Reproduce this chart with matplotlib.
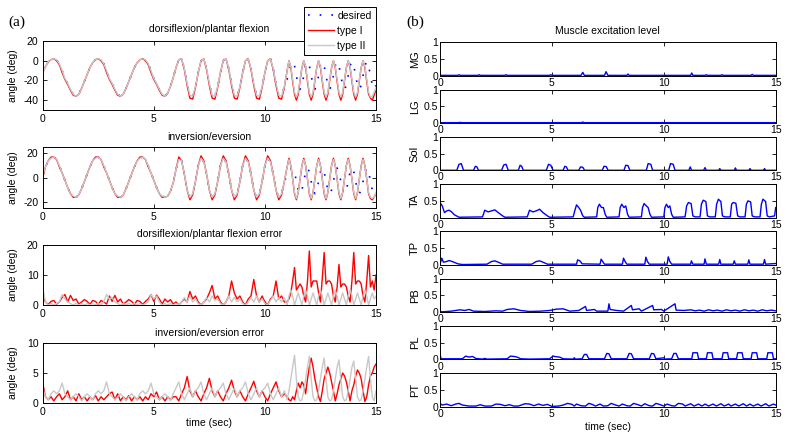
import numpy as np
import matplotlib
matplotlib.use("Agg")
import matplotlib.pyplot as plt
from matplotlib.lines import Line2D

plt.rcParams['font.family'] = ['Liberation Sans', 'DejaVu Sans']
plt.rcParams['axes.unicode_minus'] = False

# ---------------- data ----------------
# sample times: 0..11 s every 0.125 s, 11..15 s every 1/12 s
t_slow = np.arange(0, 11, 0.125)
t_fast = 11 + np.arange(48) / 12.0
t = np.concatenate([t_slow, t_fast, [15.0]])

dp_desired = [
    -13, -6, -1, 1, 2, 1, -3, -10, -18, -23, -29, -34, -36, -34, -28, -21,
    -14, -7, -2, 1, 2, 1, -3, -10, -18, -23, -29, -34, -36, -34, -28, -21,
    -14, -7, -2, 1, 2, 1, -3, -10, -18, -23, -29, -34, -36, -33, -26, -17,
    -7, 1, 2, -8, -23, -35, -36, -26,
    -12, 0, 2, -8, -23, -35, -36, -26,
    -12, 0, 2, -8, -23, -35, -36, -26,
    -12, 0, 2, -8, -23, -35, -36, -26,
    -12, 0, 2, -8, -23, -35, -36, -26,
    -19, -12, -5, -1, -5, -15, -25, -29,
    -25, -15, -5, -1, -5, -15, -25, -29,
    -25, -15, -5, -1, -5, -15, -25, -29,
    -25, -15, -5, -1, -5, -15, -25, -29,
    -25, -15, -5, -1, -5, -15, -25, -29,
    -25, -15, -5, -1, -5, -15, -25, -29,
    -25]
dp_type1 = [
    -12, -6, -1, 1, 2, 0, -4, -12, -19, -24, -30, -35, -36, -34, -28, -21,
    -14, -7, -2, 1, 2, 0, -4, -12, -19, -24, -30, -35, -36, -34, -28, -21,
    -14, -7, -2, 1, 2, 0, -4, -12, -19, -24, -30, -35, -36, -33, -26, -17,
    -7, 1, 2, -9, -25, -38, -39, -27,
    -12, 0, 2, -9, -25, -38, -39, -27,
    -12, 0, 2, -9, -25, -38, -39, -27,
    -12, 0, 2, -9, -25, -38, -39, -27,
    -12, 0, 2, -9, -25, -38, -39, -27,
    -10, 0, -7, -21, -34, -40, -34, -20,
    -7, 0, -7, -21, -34, -40, -34, -20,
    -7, 0, -7, -21, -34, -40, -34, -20,
    -7, 0, -7, -21, -34, -40, -34, -20,
    -7, 0, -7, -21, -34, -40, -34, -20,
    -7, 0, -7, -21, -34, -38, -40, -35,
    -30]
dp_type2 = [
    -13, -6, -1, 1, 2, 1, -3, -10, -18, -23, -29, -34, -36, -34, -28, -21,
    -14, -7, -2, 1, 2, 1, -3, -10, -18, -23, -29, -34, -36, -34, -28, -21,
    -14, -7, -2, 1, 2, 1, -3, -10, -18, -23, -29, -34, -36, -33, -26, -17,
    -7, 1, 2, -8, -23, -35, -36, -26,
    -12, 0, 2, -8, -23, -35, -36, -26,
    -12, 0, 2, -8, -23, -35, -36, -26,
    -12, 0, 2, -8, -23, -35, -36, -26,
    -12, 0, 2, -8, -23, -35, -36, -26,
    -10, 0, -6, -19, -32, -37, -32, -19,
    -7, 0, -6, -19, -32, -37, -32, -19,
    -7, 0, -6, -19, -32, -37, -32, -19,
    -7, 0, -6, -19, -32, -37, -32, -19,
    -7, 0, -6, -19, -32, -37, -32, -19,
    -7, 0, -6, -19, -32, -37, -36, -32,
    -27]

ie_desired = [
    2, 9, 14, 16, 17, 15, 10, 4, -2, -8, -13, -15, -16, -14, -9, -3,
    3, 9, 14, 16, 17, 15, 10, 4, -2, -8, -13, -15, -16, -14, -9, -3,
    3, 9, 14, 16, 17, 15, 10, 4, -2, -8, -13, -15, -16, -15, -11, -4,
    7, 15, 14, 3, -10, -16, -13, -3,
    10, 16, 13, 3, -10, -16, -13, -3,
    10, 16, 13, 3, -10, -16, -13, -3,
    10, 16, 13, 3, -10, -16, -13, -3,
    10, 16, 13, 3, -10, -16, -13, -3,
    2, 5, 7, 8, 5, -3, -10, -13,
    -10, -3, 5, 8, 5, -3, -10, -13,
    -10, -3, 5, 8, 5, -3, -10, -13,
    -10, -3, 5, 8, 5, -3, -10, -13,
    -10, -3, 5, 8, 5, -3, -10, -13,
    -10, -3, 5, 8, 5, -3, -10, -13,
    -10]
ie_type1 = [
    0, 9, 14, 17, 17, 15, 9, 4, -2, -8, -13, -16, -16, -14, -9, -3,
    3, 9, 14, 17, 17, 15, 9, 4, -2, -8, -13, -16, -16, -14, -9, -3,
    3, 9, 14, 17, 17, 15, 9, 4, -2, -8, -13, -16, -16, -15, -11, -4,
    7, 17, 14, 3, -10, -18, -14, -3,
    10, 18, 14, 3, -10, -18, -14, -3,
    10, 18, 14, 3, -10, -18, -14, -3,
    10, 18, 14, 3, -10, -18, -14, -3,
    10, 18, 14, 3, -10, -18, -14, -3,
    9, 16, 10, -1, -13, -18, -12, -1,
    10, 16, 10, -1, -13, -18, -12, -1,
    10, 16, 10, -1, -13, -18, -12, -1,
    10, 16, 10, -1, -13, -18, -12, -1,
    10, 16, 10, -1, -13, -18, -12, -1,
    10, 16, 10, -1, -13, -17, -18, -16,
    -13]
ie_type2 = [
    2, 9, 14, 16, 17, 15, 10, 4, -2, -8, -13, -15, -16, -14, -9, -3,
    3, 9, 14, 16, 17, 15, 10, 4, -2, -8, -13, -15, -16, -14, -9, -3,
    3, 9, 14, 16, 17, 15, 10, 4, -2, -8, -13, -15, -16, -15, -11, -4,
    7, 15, 14, 3, -10, -16, -13, -3,
    10, 16, 13, 3, -10, -16, -13, -3,
    10, 16, 13, 3, -10, -16, -13, -3,
    10, 16, 13, 3, -10, -16, -13, -3,
    10, 16, 13, 3, -10, -16, -13, -3,
    9, 15, 10, -1, -12, -17, -12, -1,
    10, 15, 10, -1, -12, -17, -12, -1,
    10, 15, 10, -1, -12, -17, -12, -1,
    10, 15, 10, -1, -12, -17, -12, -1,
    10, 15, 10, -1, -12, -17, -12, -1,
    10, 15, 10, -1, -12, -16, -17, -16,
    -12]

err_dp_type1 = [
    3, 1, 0.2, 1.2, 1.5, 0.3, 1, 2.5, 3.5, 1, 3.2, 1.5, 2, 0.3, 1, 1.8,
    1.2, 0.2, 1.5, 1.2, 0.2, 1.5, 1, 0.3, 3, 1.2, 3.2, 1, 2, 0.3, 1, 1.8,
    1.2, 0.2, 1.5, 1.2, 0.2, 1.2, 2, 3.5, 1.2, 3.3, 2, 0.3, 2, 1, 1.8, 0.3,
    1, 0, 1, 2, 1, 4.5, 2, 3,
    1, 0, 1, 2, 4, 6.5, 2, 3,
    1, 0, 1, 3, 8, 4, 2, 3,
    1, 0, 2, 3, 8.5, 3, 1, 3,
    1, 0, 2, 3, 8, 2, 3, 1,
    1, 2, 4, 8, 12.5, 5, 6, 7,
    6, 3, 1, 8, 18, 6, 8, 8,
    8, 4, 1, 9, 17.5, 7, 8, 8,
    7, 3, 1, 6, 13.5, 6, 7, 7,
    6, 3, 1, 8, 17.5, 7, 8, 8,
    7, 3, 1, 8, 16.5, 6, 8, 5,
    10]
err_dp_type2 = [
    6, 1, 0, 0.5, 0, 0.5, 1, 3.5, 2, 1, 0.5, 0, 0.5, 0, 0.5, 0,
    0.5, 0, 0.5, 0, 0.5, 0, 1, 3.5, 2, 2.5, 1, 0.5, 0, 0.5, 0, 0.5,
    0, 0.5, 0, 0.5, 0, 0.5, 1, 3.5, 2, 3, 1, 0, 0.5, 0, 0.5, 0,
    0.5, 0, 1, 2.5, 1, 3, 1, 2,
    0.5, 0, 1, 2.5, 1, 3, 1.5, 2,
    0.5, 0, 1, 3, 1, 2.5, 1, 2,
    0.5, 0, 1, 2.5, 1, 3, 1, 2,
    0.5, 0, 1.5, 3, 1, 2.5, 1, 2.5,
    0, 3, 5, 3, 0, 2, 4, 2,
    0, 3, 5, 3, 0, 2, 4, 2,
    0, 3, 5, 3, 0, 2, 4, 2,
    0, 3, 5, 3, 0, 2, 4, 2,
    0, 3, 5, 3, 0, 2, 4, 2,
    0, 3, 5, 3, 0, 2, 4, 2,
    3]

err_ie_type1 = [
    3.3, 1, 0.5, 1, 0.3, 1, 1.5, 0.5, 1, 2, 0.5, 1, 0.3, 1.5, 0.5, 1,
    0.3, 1, 0.5, 1.2, 0.3, 1, 0.5, 1, 1.5, 1.8, 0.5, 1.5, 0.3, 1, 0.5, 1.2,
    0.3, 1, 0.5, 1, 0.3, 1, 0.5, 1.5, 1, 1.8, 0.5, 1, 0.3, 1, 0.5, 1,
    1, 0.3, 1.5, 2.5, 4.4, 2, 1, 2,
    1, 0.3, 1.5, 2.5, 4.1, 2, 1, 2,
    1, 0.3, 1.5, 2.5, 3.8, 2, 1, 2,
    1, 0.3, 1.5, 2.5, 3.6, 2, 1, 2,
    1, 0.3, 1.5, 2.5, 3.5, 2, 1, 1.5,
    1, 0.5, 0.3, 1, 0.5, 2, 3.3, 2.5,
    3.5, 3, 1.5, 4, 6, 7.5, 6, 4,
    2.5, 1, 0.2, 2, 4, 5, 6, 5,
    3.5, 2, 0.3, 1.5, 3, 4, 5, 4.5,
    3.5, 2, 0.3, 2, 3, 4.5, 5.5, 5,
    4, 2, 0.2, 1, 3, 4.5, 5, 6,
    6.5]
err_ie_type2 = [
    2.5, 1, 0.5, 1.5, 2, 1.5, 2, 3.3, 1.5, 1, 0.5, 1, 1.5, 1, 0.3, 1,
    1.5, 1, 0.5, 1.5, 2, 1.5, 2, 3.5, 1.5, 1, 0.5, 1, 1.5, 1, 0.3, 1,
    1.5, 1, 0.5, 1.5, 2, 1.5, 2, 3.3, 1.5, 1, 0.5, 1, 1.5, 1, 0.3, 1.5,
    2.5, 3.5, 1.5, 0.5, 1.5, 2.5, 1, 2,
    2.5, 3.5, 1.5, 0.5, 1.5, 2.5, 1, 2,
    2.5, 3.3, 1.5, 0.5, 1.5, 2.5, 1, 2,
    2.5, 3.5, 1.5, 0.5, 1.5, 2.5, 1, 2,
    2.5, 3.3, 1.5, 0.5, 1.5, 2.5, 1, 2,
    0.5, 2, 4, 6, 8, 4, 1, 0.3,
    0.5, 2, 4, 6, 7.8, 4, 1, 0.3,
    0.5, 2, 4, 6, 7.5, 4, 1, 0.3,
    0.5, 2, 4, 6, 7.2, 4, 1, 0.3,
    0.5, 2, 4, 6, 7, 4, 1, 0.3,
    0.5, 2, 4, 6, 7.8, 4, 1, 0.3,
    2]

# muscle excitation levels: (time, level) points
MG = [(0, 0.01), (0.8, 0.01), (0.85, 0.03), (0.9, 0.01), (1.7, 0.01), (1.75, 0.03), (1.8, 0.01),
      (2.9, 0.01), (2.95, 0.03), (3.0, 0.01), (4.9, 0.01), (4.95, 0.03), (5.0, 0.01),
      (6.3, 0.01), (6.38, 0.10), (6.45, 0.01), (7.35, 0.01), (7.42, 0.12), (7.5, 0.01),
      (8.35, 0.01), (8.4, 0.05), (8.45, 0.01), (11.2, 0.01), (11.25, 0.08), (11.3, 0.01),
      (11.85, 0.01), (11.9, 0.03), (11.95, 0.01), (12.55, 0.01), (12.6, 0.03), (12.65, 0.01),
      (13.9, 0.01), (13.95, 0.04), (14.0, 0.01), (15, 0.01)]
LG = [(0, 0.01), (0.85, 0.01), (0.9, 0.02), (0.95, 0.01), (6.33, 0.01), (6.38, 0.03), (6.43, 0.01), (15, 0.01)]
Sol = [(0, 0), (0.75, 0), (0.85, 0.18), (0.95, 0.2), (1.05, 0), (1.5, 0), (1.58, 0.12), (1.65, 0.1), (1.72, 0),
       (2.75, 0), (2.85, 0.16), (2.95, 0.18), (3.05, 0), (3.5, 0), (3.58, 0.15), (3.65, 0.12), (3.72, 0),
       (4.75, 0), (4.85, 0.18), (4.95, 0.15), (5.05, 0), (5.5, 0), (5.58, 0.12), (5.65, 0.1), (5.72, 0),
       (6.2, 0), (6.28, 0.1), (6.38, 0.09), (6.46, 0), (7.25, 0), (7.33, 0.12), (7.43, 0.11), (7.51, 0),
       (8.22, 0), (8.3, 0.15), (8.4, 0.14), (8.48, 0), (9.22, 0), (9.3, 0.2), (9.42, 0.18), (9.5, 0),
       (10.22, 0), (10.3, 0.2), (10.42, 0.18), (10.5, 0), (11.12, 0), (11.18, 0.1), (11.24, 0),
       (11.78, 0), (11.84, 0.08), (11.9, 0), (12.45, 0), (12.5, 0.05), (12.55, 0), (13.15, 0), (13.2, 0.07),
       (13.25, 0), (13.8, 0), (13.85, 0.05), (13.9, 0), (14.45, 0), (14.5, 0.05), (14.55, 0), (15, 0)]
TA = [(0, 0.45), (0.1, 0.35), (0.2, 0.15), (0.3, 0.2), (0.4, 0.22), (0.5, 0.18), (0.65, 0.08), (0.85, 0.01),
      (1.9, 0.02), (2.0, 0.22), (2.15, 0.17), (2.3, 0.2), (2.45, 0.23), (2.6, 0.15), (2.8, 0.05), (2.9, 0.01),
      (3.9, 0.02), (4.0, 0.22), (4.15, 0.17), (4.3, 0.2), (4.45, 0.25), (4.6, 0.15), (4.8, 0.05), (4.9, 0.01),
      (5.95, 0.02), (6.02, 0.2), (6.1, 0.38), (6.2, 0.3), (6.28, 0.22), (6.38, 0.05), (6.45, 0.01),
      (7.0, 0.02), (7.05, 0.3), (7.12, 0.4), (7.22, 0.3), (7.3, 0.3), (7.38, 0.1), (7.45, 0.01),
      (8.0, 0.02), (8.05, 0.3), (8.12, 0.4), (8.22, 0.3), (8.3, 0.35), (8.38, 0.1), (8.45, 0.01),
      (9.0, 0.02), (9.05, 0.3), (9.12, 0.42), (9.22, 0.35), (9.3, 0.3), (9.38, 0.1), (9.45, 0.01),
      (10.0, 0.02), (10.05, 0.3), (10.12, 0.4), (10.2, 0.3), (10.27, 0.35), (10.35, 0.1), (10.42, 0.01),
      (10.95, 0.02), (11.02, 0.35), (11.1, 0.45), (11.22, 0.42), (11.3, 0.05), (11.4, 0.02),
      (11.62, 0.02), (11.68, 0.4), (11.76, 0.52), (11.88, 0.48), (11.95, 0.05), (12.05, 0.02),
      (12.3, 0.02), (12.36, 0.4), (12.44, 0.55), (12.55, 0.48), (12.62, 0.05), (12.72, 0.02),
      (12.97, 0.02), (13.03, 0.4), (13.1, 0.45), (13.22, 0.43), (13.3, 0.05), (13.4, 0.02),
      (13.63, 0.02), (13.69, 0.4), (13.76, 0.5), (13.88, 0.47), (13.95, 0.05), (14.05, 0.02),
      (14.3, 0.02), (14.36, 0.4), (14.43, 0.55), (14.55, 0.48), (14.62, 0.05), (14.72, 0.02),
      (14.95, 0.05), (15, 0.3)]
TP = [(0, 0.02), (0.08, 0.2), (0.15, 0.08), (0.3, 0.1), (0.4, 0.13), (0.55, 0.1), (0.8, 0.03), (1.0, 0.01),
      (2.1, 0.02), (2.3, 0.1), (2.45, 0.12), (2.6, 0.08), (2.8, 0.02), (4.1, 0.02), (4.3, 0.1), (4.45, 0.12),
      (4.6, 0.08), (4.8, 0.02), (6.1, 0.02), (6.15, 0.15), (6.25, 0.12), (6.35, 0.03),
      (7.15, 0.02), (7.2, 0.17), (7.27, 0.1), (7.35, 0.02), (8.15, 0.02), (8.2, 0.2), (8.27, 0.1), (8.35, 0.02),
      (9.15, 0.02), (9.2, 0.23), (9.27, 0.1), (9.35, 0.02), (10.15, 0.02), (10.2, 0.24), (10.27, 0.1),
      (10.35, 0.02), (11.2, 0.02), (11.23, 0.12), (11.3, 0.02), (11.8, 0.02), (11.84, 0.18), (11.9, 0.02),
      (12.45, 0.02), (12.5, 0.16), (12.55, 0.02), (13.1, 0.02), (13.15, 0.12), (13.2, 0.02),
      (13.75, 0.02), (13.8, 0.15), (13.85, 0.02), (14.45, 0.02), (14.5, 0.16), (14.55, 0.02), (15, 0.04)]
PB = [(0, 0.02), (0.1, 0.01), (0.5, 0.03), (0.9, 0.07), (1.1, 0.05), (1.3, 0.08), (1.5, 0.03), (2.0, 0.02),
      (2.5, 0.04), (2.8, 0.03), (3.0, 0.08), (3.3, 0.1), (3.6, 0.05), (4.0, 0.02), (4.5, 0.03), (4.9, 0.05),
      (5.2, 0.09), (5.5, 0.1), (5.8, 0.03), (6.2, 0.05), (6.5, 0.17), (6.55, 0.05), (6.9, 0.08), (7.0, 0.03),
      (7.5, 0.03), (7.55, 0.25), (7.6, 0.08), (7.9, 0.05), (8.2, 0.03), (8.55, 0.2), (8.6, 0.07), (8.9, 0.1),
      (9.0, 0.03), (9.5, 0.2), (9.55, 0.07), (9.9, 0.08), (10.0, 0.03), (10.5, 0.25), (10.55, 0.06),
      (10.9, 0.05), (11.2, 0.07), (11.4, 0.04), (11.6, 0.06), (11.8, 0.03), (12.0, 0.07), (12.2, 0.04),
      (12.4, 0.06), (12.6, 0.03), (12.8, 0.07), (13.0, 0.04), (13.2, 0.06), (13.4, 0.03), (13.6, 0.07),
      (13.8, 0.04), (14.0, 0.06), (14.2, 0.03), (14.4, 0.07), (14.6, 0.04), (14.8, 0.06), (15, 0.04)]
PL = [(0, 0.15), (0.05, 0.02), (1.0, 0.02), (1.15, 0.1), (1.3, 0.07), (1.45, 0.09), (1.6, 0.03), (1.9, 0.01),
      (2.0, 0.03), (2.1, 0.01), (3.0, 0.02), (3.15, 0.1), (3.3, 0.09), (3.45, 0.07), (3.6, 0.02), (4.0, 0.01),
      (4.9, 0.02), (5.05, 0.1), (5.2, 0.08), (5.35, 0.07), (5.5, 0.02), (5.95, 0.01), (6.0, 0.05), (6.05, 0.01),
      (6.35, 0.02), (6.45, 0.15), (6.55, 0.15), (6.65, 0.02), (7.35, 0.02), (7.45, 0.18), (7.55, 0.17),
      (7.65, 0.02), (8.35, 0.02), (8.45, 0.18), (8.55, 0.17), (8.65, 0.02), (9.35, 0.02), (9.45, 0.18),
      (9.55, 0.17), (9.65, 0.02), (10.0, 0.05), (10.05, 0.01), (10.35, 0.02), (10.45, 0.18), (10.55, 0.18),
      (10.65, 0.02), (11.25, 0.02), (11.3, 0.2), (11.5, 0.2), (11.55, 0.02), (11.9, 0.02), (11.95, 0.2),
      (12.15, 0.2), (12.2, 0.02), (12.6, 0.02), (12.65, 0.2), (12.85, 0.2), (12.9, 0.02), (13.25, 0.02),
      (13.3, 0.2), (13.5, 0.2), (13.55, 0.02), (13.9, 0.02), (13.95, 0.2), (14.15, 0.2), (14.2, 0.02),
      (14.6, 0.02), (14.65, 0.2), (14.85, 0.2), (14.9, 0.02), (15, 0.02)]
PT = [(0, 0.1), (0.1, 0.05), (0.3, 0.08), (0.5, 0.03), (0.7, 0.08), (0.85, 0.1), (1.0, 0.05), (1.3, 0.02),
      (1.6, 0.02), (1.8, 0.06), (2.0, 0.02), (2.3, 0.02), (2.5, 0.08), (2.7, 0.07), (2.9, 0.03), (3.1, 0.06),
      (3.3, 0.02), (3.5, 0.02), (3.8, 0.09), (4.0, 0.08), (4.2, 0.03), (4.4, 0.08), (4.6, 0.04), (4.8, 0.07),
      (5.0, 0.01), (5.3, 0.02), (5.5, 0.05), (5.7, 0.1), (5.9, 0.07), (6.0, 0.02), (6.1, 0.08), (6.3, 0.03),
      (6.5, 0.02), (6.65, 0.1), (6.8, 0.07), (6.95, 0.02), (7.15, 0.08), (7.3, 0.02), (7.5, 0.03),
      (7.65, 0.1), (7.85, 0.05), (8.0, 0.02), (8.15, 0.08), (8.35, 0.03), (8.5, 0.02), (8.65, 0.1),
      (8.85, 0.06), (9.0, 0.02), (9.15, 0.09), (9.35, 0.03), (9.5, 0.02), (9.65, 0.1), (9.85, 0.06),
      (10.0, 0.02), (10.15, 0.08), (10.35, 0.03), (10.5, 0.02), (10.65, 0.1), (10.85, 0.08), (10.95, 0.02),
      (11.2, 0.09), (11.35, 0.02), (11.55, 0.08), (11.7, 0.02), (11.85, 0.08), (12.0, 0.02), (12.2, 0.08),
      (12.35, 0.02), (12.55, 0.09), (12.7, 0.02), (12.9, 0.08), (13.0, 0.02), (13.2, 0.08), (13.35, 0.02),
      (13.55, 0.09), (13.7, 0.02), (13.85, 0.08), (14.0, 0.02), (14.2, 0.08), (14.35, 0.02), (14.55, 0.09),
      (14.7, 0.02), (14.9, 0.08), (15, 0.05)]

muscle_names = ["MG", "LG", "Sol", "TA", "TP", "PB", "PL", "PT"]
muscle_data = [MG, LG, Sol, TA, TP, PB, PL, PT]

left_titles = ["dorsiflexion/plantar flexion", "inversion/eversion",
               "dorsiflexion/plantar flexion error", "inversion/eversion error"]
series_labels = ["desired", "type I", "type II"]

# ---------------- styling ----------------
RED = "#ff0000"
GRAY = "#c8c8c8"
BLUE = "#0000ff"
FS = 7.5
W, H = 786.0, 438.0

fig = plt.figure(figsize=(7.86, 4.38), dpi=100)
fig.patch.set_facecolor("white")


def ax_px(left, top, right, bottom):
    return fig.add_axes([left / W, 1 - bottom / H, (right - left) / W, (bottom - top) / H])


def style(ax, pad=3):
    ax.tick_params(direction="in", length=3, width=0.6, top=True, right=True,
                   labelsize=FS, pad=pad, colors="black")
    for s in ax.spines.values():
        s.set_linewidth(0.7)
        s.set_color("black")
    ax.set_xlim(0, 15)
    ax.set_xticks([0, 5, 10, 15])


dotted = (0, (1.0, 6.0))

# ---- left column ----
left_boxes = [(42.7, 41, 376, 110), (42.7, 147.3, 376, 208.3),
              (42.7, 245, 376, 305), (42.7, 343.3, 376, 402.7)]
axes_left = [ax_px(*b) for b in left_boxes]

a0, a1, a2, a3 = axes_left
for ax, d, r, g, ylim, yt in [
        (a0, dp_desired, dp_type1, dp_type2, (-50, 20), [-40, -20, 0, 20]),
        (a1, ie_desired, ie_type1, ie_type2, (-25, 25), [-20, 0, 20])]:
    ax.plot(t, d, color=BLUE, lw=1.2, linestyle=dotted)
    ax.plot(t, r, color=RED, lw=1.0)
    ax.plot(t, g, color=GRAY, lw=1.0)
    ax.set_ylim(*ylim)
    ax.set_yticks(yt)

for ax, r, g, ylim, yt in [
        (a2, err_dp_type1, err_dp_type2, (0, 20), [0, 10, 20]),
        (a3, err_ie_type1, err_ie_type2, (0, 10), [0, 5, 10])]:
    ax.plot(t, r, color=RED, lw=1.0)
    ax.plot(t, g, color=GRAY, lw=1.0)
    ax.set_ylim(*ylim)
    ax.set_yticks(yt)

for i, ax in enumerate(axes_left):
    style(ax)
    ax.set_title(left_titles[i], fontsize=FS, pad=6.2 if i == 0 else 5.5)
    ax.set_ylabel("angle (deg)", fontsize=FS)
    ax.yaxis.set_label_coords(-0.073, 0.5)
a3.set_xlabel("time (sec)", fontsize=FS, labelpad=1)

handles = [Line2D([], [], color=BLUE, lw=1.2, linestyle=dotted),
           Line2D([], [], color=RED, lw=1.0),
           Line2D([], [], color=GRAY, lw=1.0)]
leg = fig.legend(handles, series_labels, loc="upper right",
                 bbox_to_anchor=(376 / W, 1 - 6.5 / H), bbox_transform=fig.transFigure,
                 fontsize=FS, frameon=True, fancybox=False, edgecolor="black",
                 framealpha=1, borderaxespad=0, handlelength=2.5, handletextpad=0.3,
                 labelspacing=0.5, borderpad=0.4)
leg.get_frame().set_linewidth(0.7)

# ---- right column ----
for i, (name, pts) in enumerate(zip(muscle_names, muscle_data)):
    bottom = 75.7 + 47.29 * i
    ax = ax_px(440, bottom - 33.4, 775.7, bottom)
    tt = [p[0] for p in pts]
    vv = [p[1] for p in pts]
    ax.plot(tt, vv, color=BLUE, lw=1.0)
    style(ax, pad=1.5)
    ax.set_ylim(0, 1)
    ax.set_yticks([0, 0.5, 1])
    ax.set_yticklabels(["0", "0.5", "1"])
    ax.set_ylabel(name, fontsize=8)
    ax.yaxis.set_label_coords(-0.06, 0.5)
    if i == 0:
        ax.set_title("Muscle excitation level", fontsize=FS, pad=6.3)
    if i == 7:
        ax.set_xlabel("time (sec)", fontsize=FS, labelpad=2)

fig.text(8 / W, 1 - 22 / H, "(a)", fontsize=11, family=["Liberation Serif", "DejaVu Serif"],
         va="center", ha="left")
fig.text(406 / W, 1 - 22 / H, "(b)", fontsize=11, family=["Liberation Serif", "DejaVu Serif"],
         va="center", ha="left")

fig.savefig("out.png", dpi=100, facecolor="white")
